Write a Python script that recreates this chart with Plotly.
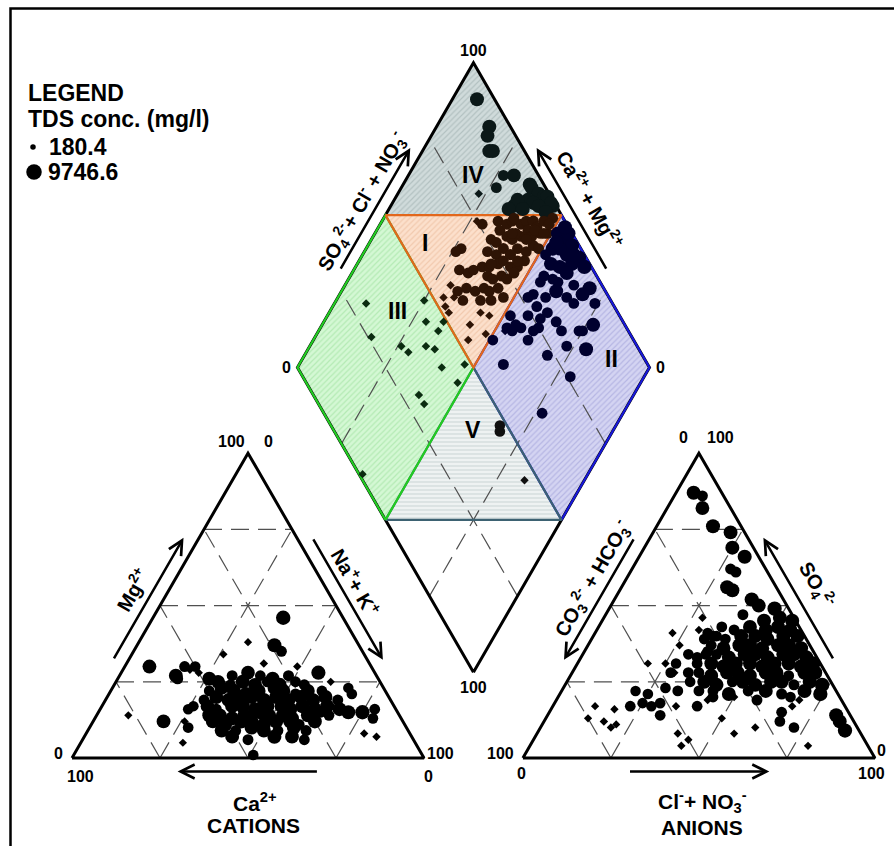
import math
import plotly.graph_objects as go

FONT = "Liberation Sans, Arial, Helvetica, sans-serif"

# ---------------------------------------------------------------------------
# Cation triangle: Mg2+ and Na+ + K+ as % of cation meq (Ca2+ is the rest)
# ---------------------------------------------------------------------------
cat_mg = [
    46, 38, 37, 35, 34, 30, 31, 30, 28, 30,
    29, 30, 27, 26, 28, 26, 25, 25, 23, 21,
    14, 12, 12, 16, 17, 10, 5, 15, 15, 16,
    13, 8, 7, 1,
    27, 28, 27, 26, 27,
    25, 24, 25, 24, 25, 24, 25, 24,
    22, 23, 22, 21, 22, 23, 22, 21, 22, 22,
    19, 20, 19, 20, 20, 19, 20, 19, 20, 19, 20, 19,
    17, 16, 17, 17, 16, 17, 17, 16, 17, 16, 17, 16,
    14, 14, 13, 14, 15, 14, 14, 13, 14, 15, 14,
    12, 11, 12, 12, 11, 12, 12, 11, 12,
    9, 9, 10, 9, 9, 10, 9,
    7, 6, 7, 7, 6,
]
cat_nak = [
    37, 31, 39, 42, 26, 7, 39, 49, 56, 17,
    19, 20, 16, 17, 22, 26, 30, 61, 67, 69,
    9, 20, 26, 25, 26, 28, 29, 71, 75, 78,
    79, 79, 83, 51,
    32, 36, 40, 44, 48,
    29, 33, 36, 40, 43, 47, 51, 54,
    28, 31, 35, 39, 42, 46, 49, 53, 56, 60,
    28, 31, 35, 38, 41, 45, 48, 52, 55, 59, 62, 66,
    30, 33, 37, 40, 44, 47, 51, 54, 57, 61, 64, 68,
    32, 35, 39, 42, 46, 49, 53, 56, 60, 63, 66,
    34, 38, 42, 45, 49, 52, 56, 59, 63,
    38, 42, 46, 50, 54, 58, 62,
    42, 47, 54, 59, 63,
]
cat_tds = [
    7800, 600, 7200, 3000, 650, 6900, 700, 650, 7400, 3000,
    900, 2800, 7000, 3200, 700, 6800, 600, 600, 2600, 2700,
    600, 6800, 650, 2600, 2500, 2800, 600, 7000, 7600, 2900,
    2700, 700, 700, 2700,
    3000, 6500, 2800, 6800, 3100,
    6600, 3000, 7200, 6900, 3000, 7000, 2900, 3200,
    2900, 6800, 7300, 6900, 7100, 6600, 7400, 3000, 6900, 2800,
    3000, 6900, 7100, 7500, 6800, 7200, 7000, 6700, 7300, 6900, 7100, 3100,
    6800, 3000, 7000, 7400, 6900, 7200, 6600, 7100, 7300, 6900, 7000, 6800,
    7100, 6900, 7300, 7000, 7200, 6800, 7400, 7100, 6900, 3000, 2900,
    6900, 7000, 7300, 6800, 7100, 7200, 6900, 3200, 7000,
    6800, 3000, 7100, 7000, 2900, 6900, 3100,
    6900, 3000, 7200, 6800, 2900,
]

# ---------------------------------------------------------------------------
# Anion triangle: SO4 2- and Cl- + NO3- as % of anion meq (CO3 + HCO3 is the rest)
# ---------------------------------------------------------------------------
an_so4 = [
    87, 86, 82, 76, 74, 69, 66, 62, 61, 56,
    55, 52, 50, 49, 47, 45, 46, 41, 41, 40,
    42, 39, 37, 31, 31, 31, 35, 33, 34, 28,
    28, 22, 21, 18, 17, 22, 18, 14, 17, 23,
    17, 16, 13, 12, 10, 11, 17, 17, 19, 13,
    8, 6, 4, 8, 10, 15, 12, 4, 10, 19,
    14, 12, 9, 17,
    45, 46,
    43, 42, 43, 42, 43, 42,
    40, 39, 40, 40, 39, 40, 40,
    37, 36, 37, 37, 36, 37, 37, 36,
    34, 34, 33, 34, 34, 33, 34, 34, 33,
    31, 31, 30, 31, 31, 30, 31, 31, 30, 31,
    28, 28, 27, 28, 28, 27, 28, 28, 27, 28, 28,
    25, 25, 24, 25, 25, 24, 25, 25, 24, 25, 24,
    22, 22, 21, 22, 22, 21, 22, 21,
    20, 20, 19, 20,
]
an_cl = [
    5, 8, 10, 16, 22, 25, 30, 28, 30, 30,
    32, 39, 42, 47, 39, 54, 28, 22, 32, 34,
    29, 32, 26, 20, 25, 28, 35, 33, 30, 28,
    29, 21, 25, 25, 22, 33, 30, 32, 28, 29,
    12, 18, 12, 17, 20, 21, 35, 41, 43, 50,
    40, 44, 43, 56, 61, 66, 67, 79, 72, 69,
    82, 84, 87, 68,
    46, 50,
    35, 39, 43, 48, 51, 55,
    35, 38, 42, 46, 50, 54, 58,
    35, 39, 43, 46, 50, 54, 57, 61,
    35, 38, 42, 46, 49, 53, 57, 60, 64,
    34, 38, 42, 45, 49, 53, 56, 60, 64, 67,
    33, 36, 40, 44, 47, 51, 55, 58, 62, 66, 69,
    35, 39, 43, 47, 50, 54, 58, 61, 65, 69, 73,
    39, 43, 48, 53, 58, 63, 69, 74,
    44, 50, 57, 66,
]
an_tds = [
    7000, 3000, 6800, 7200, 6900, 7100, 7300, 3000, 3100, 7000,
    7200, 7400, 7000, 7600, 3000, 7200, 700, 650, 2800, 2900,
    700, 2700, 650, 600, 650, 2600, 2900, 2800, 2700, 2800,
    700, 2600, 2700, 2600, 2800, 2900, 2700, 2800, 2600, 2700,
    600, 650, 600, 700, 650, 600, 700, 2800, 700, 650,
    700, 650, 700, 600, 650, 2900, 2800, 650, 2700, 700,
    7200, 7000, 7600, 700,
    7200, 7000,
    2900, 3000, 6900, 7100, 7300, 7000,
    2800, 3000, 7000, 7200, 6900, 7400, 7100,
    2900, 6800, 7000, 7200, 6900, 7300, 7100, 7500,
    3000, 2900, 6900, 7100, 7000, 7300, 7200, 6900, 7400,
    2900, 6800, 7000, 7100, 6900, 7300, 7200, 7000, 7400, 7600,
    3000, 2900, 6900, 7000, 7200, 6800, 7100, 7300, 3000, 7400, 7700,
    2800, 6800, 7000, 3000, 7100, 6900, 7200, 7000, 3100, 7500, 7800,
    2900, 3000, 6900, 3000, 7000, 3100, 7200, 7700,
    2900, 700, 3000, 2800,
]

# ---------------------------------------------------------------------------
# Central diamond: SO4 + Cl + NO3 (% anions) and Ca + Mg (% cations)
# ---------------------------------------------------------------------------
dia_anion = [
    95, 94, 92, 90, 91, 90, 93, 86, 80, 96,
    96, 97, 98, 99, 99, 99, 93, 94, 88, 90,
    86, 95, 96, 90,
    76, 81, 80, 83, 85, 87, 89, 91, 91, 94,
    97, 76, 77, 81, 82, 85, 88, 88, 91, 93,
    66, 64, 73, 75, 78, 79, 82, 84, 87, 88,
    62, 64, 66, 69, 71, 74, 76, 77, 79, 82,
    69, 70, 73, 74, 77, 57, 58, 61, 63, 66,
    67, 70, 70, 53, 56, 58, 63, 66, 52, 56,
    61, 63, 53, 59, 52, 75,
    84, 86, 90, 92, 95, 80, 83, 86, 72, 79,
    96, 96, 99, 98, 95, 94, 92, 89, 89, 91,
    95, 98, 98, 92, 88, 87, 85, 83, 92, 96,
    93, 88, 86, 79, 77, 82, 78, 89, 95, 80,
    81, 77, 74, 69, 66, 81, 86, 91, 80, 73,
    65, 67, 70, 75, 87, 60, 70, 73, 85, 59,
    76, 62, 73, 69, 99, 94, 97,
    30, 47, 49, 44, 46, 26, 33, 34, 40, 42,
    41, 48, 43, 30, 30, 1,
    48, 47, 46,
]
dia_cation = [
    93, 85, 84, 81, 80, 73, 70, 73, 77, 64,
    63, 60, 58, 57, 54, 55, 62, 60, 65, 65,
    66, 58, 55, 62,
    71, 67, 65, 64, 63, 60, 59, 57, 55, 54,
    52, 66, 64, 62, 60, 58, 57, 55, 53, 51,
    73, 74, 65, 62, 61, 58, 57, 54, 53, 51,
    70, 67, 66, 64, 62, 60, 59, 56, 54, 53,
    61, 59, 57, 55, 54, 70, 67, 65, 62, 60,
    58, 56, 53, 70, 67, 64, 59, 56, 66, 58,
    57, 54, 56, 52, 68, 73,
    60, 56, 55, 52, 52, 55, 61, 63, 62, 58,
    48, 45, 45, 42, 42, 45, 47, 48, 45, 42,
    39, 38, 35, 39, 40, 42, 45, 45, 35, 30,
    31, 35, 39, 45, 46, 41, 42, 32, 26, 38,
    34, 39, 43, 45, 47, 31, 26, 23, 27, 39,
    47, 45, 43, 38, 25, 49, 39, 31, 21, 42,
    21, 23, 31, 48, 47, 47, 40,
    91, 75, 66, 71, 66, 84, 74, 71, 67, 64,
    59, 53, 52, 61, 58, 64,
    33, 32, 17,
]
dia_tds = [
    7000, 7200, 6900, 7000, 7300, 3000, 6800, 2900, 700, 7200,
    7000, 7400, 7100, 7500, 7300, 7000, 7000, 7200, 6900, 7000,
    7300, 7100, 7000, 7200,
    2800, 3000, 2900, 3100, 2800, 3000, 2900, 3200, 3000, 3100,
    3000, 2800, 3000, 2900, 3100, 2800, 3000, 3200, 2900, 3000,
    2800, 2700, 3000, 2900, 3100, 2800, 3000, 2900, 3100, 3000,
    2800, 2900, 2700, 3000, 2900, 3100, 2800, 3000, 2900, 3000,
    2800, 2900, 3000, 2800, 3100, 700, 2700, 2800, 2900, 2800,
    3000, 2900, 2800, 700, 650, 2700, 2800, 2900, 650, 700,
    700, 650, 700, 650, 700, 700,
    3000, 2900, 3100, 2800, 3000, 2900, 3000, 2800, 2900, 3000,
    7000, 7200, 7100, 7300, 7000, 6900, 7200, 3000, 7000, 7100,
    7300, 7400, 7600, 7000, 3000, 2900, 3000, 2800, 2900, 7200,
    7000, 2900, 7000, 2800, 3000, 2900, 3000, 2800, 3000, 2900,
    3000, 2800, 2900, 3000, 2800, 2900, 3000, 7000, 2900, 2800,
    700, 2900, 2800, 3000, 2900, 2800, 2900, 3000, 7100, 3000,
    2800, 2900, 700, 2800, 7200, 7000, 7300,
    650, 700, 700, 650, 700, 650, 700, 650, 700, 700,
    650, 700, 650, 700, 650, 600,
    2600, 2700, 650,
]

TDS_RANGE = [180.4, 9746.6]
GRID_LEVELS = [25, 50, 75]
TICK_MIN, TICK_MAX = "0", "100"

# ---------------------------------------------------------------------------
# Piper geometry (triangle side = 100 data units)
# ---------------------------------------------------------------------------
S3 = math.sqrt(3) / 2
GAP = 28.1
PX = 1 / 3.52          # data units per screen pixel
W, H = 894, 846
OX, OY = 72, 758       # screen position of the cation triangle's left corner


def cat_xy(mg, nak):
    return nak + mg / 2, mg * S3


def an_xy(so4, cl):
    return 100 + GAP + cl + so4 / 2, so4 * S3


BX, BY = 100 + GAP / 2, GAP * S3


def dia_xy(a, c):
    return BX + (a - c) / 2, BY + (a + c) * S3


def screen(px, py):
    return (px - OX) * PX, (OY - py) * PX


def off(pt, dx, dy):
    return pt[0] + dx * PX, pt[1] - dy * PX


def along(p0, p1, t, normal, dist):
    return (p0[0] + t * (p1[0] - p0[0]) + normal[0] * dist * PX,
            p0[1] + t * (p1[1] - p0[1]) + normal[1] * dist * PX)


CL, CR, CT = cat_xy(0, 0), cat_xy(0, 100), cat_xy(100, 0)
AL, AR, AT = an_xy(0, 0), an_xy(0, 100), an_xy(100, 0)
DB, DL, DR, DT = dia_xy(0, 0), dia_xy(0, 100), dia_xy(100, 0), dia_xy(100, 100)
N_LEFT, N_RIGHT, N_DOWN = (-S3, 0.5), (S3, 0.5), (0, -1)


def facies(a, c):
    if a + c > 150:
        return "IV"
    if a >= 50 and c >= 50:
        return "I"
    if a >= 50:
        return "II"
    if c >= 50:
        return "III"
    return "V"


def msize(tds):
    f = max((tds - TDS_RANGE[0]) / (TDS_RANGE[1] - TDS_RANGE[0]), 0)
    return 5.5 + 10 * math.sqrt(f)


def polyline(pts, close=True):
    pts = list(pts) + ([pts[0]] if close else [])
    return [p[0] for p in pts], [p[1] for p in pts]


fig = go.Figure()

# ---- facies fills --------------------------------------------------------
region_style = {
    "IV": dict(poly=[(50, 100), (100, 100), (100, 50)], bg="#d0dbdb", fg="#96a8a8", shape="/", edge=None),
    "II": dict(poly=[(50, 0), (100, 0), (100, 50), (50, 50)], bg="#d4d4f2", fg="#9898d4", shape="/", edge="#1818d8"),
    "V": dict(poly=[(0, 50), (50, 50), (50, 0)], bg="#eef2f2", fg="#b0bfbf", shape="-", edge="#3d6272"),
    "III": dict(poly=[(0, 50), (0, 100), (50, 100), (50, 50)], bg="#d4f8d4", fg="#94dc94", shape="/", edge="#22cc22"),
    "I": dict(poly=[(50, 100), (100, 50), (50, 50)], bg="#fce0cc", fg="#e6b290", shape="/", edge="#e2671c"),
}
for name, st in region_style.items():
    xs, ys = polyline([dia_xy(a, c) for a, c in st["poly"]])
    fig.add_trace(go.Scatter(
        x=xs, y=ys, mode="none", fill="toself", fillcolor=st["bg"],
        fillpattern=dict(shape=st["shape"], fgcolor=st["fg"], bgcolor=st["bg"], size=4, solidity=0.3),
        hoverinfo="skip"))

# ---- dashed 25/50/75 grid -------------------------------------------------
gx, gy = [], []


def seg(p, q):
    gx.extend([p[0], q[0], None])
    gy.extend([p[1], q[1], None])


for v in GRID_LEVELS:
    seg(cat_xy(v, 0), cat_xy(v, 100 - v))
    seg(cat_xy(0, v), cat_xy(100 - v, v))
    seg(cat_xy(0, 100 - v), cat_xy(100 - v, 0))
    seg(an_xy(v, 0), an_xy(v, 100 - v))
    seg(an_xy(0, v), an_xy(100 - v, v))
    seg(an_xy(0, 100 - v), an_xy(100 - v, 0))
    seg(dia_xy(v, 0), dia_xy(v, 100))
    seg(dia_xy(0, v), dia_xy(100, v))
fig.add_trace(go.Scatter(x=gx, y=gy, mode="lines", hoverinfo="skip",
                         line=dict(color="#505050", width=1.2, dash="18px,9px")))

# ---- outlines --------------------------------------------------------------
for pts in ([CL, CR, CT], [AL, AR, AT], [DB, DR, DT, DL]):
    xs, ys = polyline(pts)
    fig.add_trace(go.Scatter(x=xs, y=ys, mode="lines", hoverinfo="skip",
                             line=dict(color="black", width=3)))
for name in ["II", "V", "III", "I"]:
    st = region_style[name]
    xs, ys = polyline([dia_xy(a, c) for a, c in st["poly"]])
    fig.add_trace(go.Scatter(x=xs, y=ys, mode="lines", hoverinfo="skip",
                             line=dict(color=st["edge"], width=2.2)))

# ---- samples ------------------------------------------------------------------
point_color = {"I": "#2e1405", "II": "#00002e", "III": "#0b2c10", "IV": "#0b1818", "V": "#101010"}


def points(xy, tds, colors):
    xs = [p[0] for p in xy]
    ys = [p[1] for p in xy]
    sizes = [msize(t) / (1.2 if t < 1500 else 1.0) for t in tds]
    symbols = ["diamond" if t < 1500 else "circle" for t in tds]
    fig.add_trace(go.Scatter(x=xs, y=ys, mode="markers", hoverinfo="skip",
                             marker=dict(size=sizes, symbol=symbols, color=colors,
                                         opacity=1, line=dict(width=0))))


points([cat_xy(m, n) for m, n in zip(cat_mg, cat_nak)], cat_tds, "black")
points([an_xy(s, c) for s, c in zip(an_so4, an_cl)], an_tds, "black")
points([dia_xy(a, c) for a, c in zip(dia_anion, dia_cation)], dia_tds,
       [point_color[facies(a, c)] for a, c in zip(dia_anion, dia_cation)])

# ---- text -----------------------------------------------------------------------
ann = []


def txt(pt, s, size=16, angle=0, xanchor="center"):
    ann.append(dict(x=pt[0], y=pt[1], xref="x", yref="y", text="<b>%s</b>" % s,
                    showarrow=False, textangle=angle, xanchor=xanchor, yanchor="middle",
                    font=dict(family=FONT, size=size, color="black")))


def arrow(tail, head):
    ann.append(dict(x=head[0], y=head[1], ax=tail[0], ay=tail[1], xref="x", yref="y",
                    axref="x", ayref="y", text="", showarrow=True, arrowhead=5,
                    arrowsize=1.1, arrowwidth=2.5, arrowcolor="black", standoff=0))


# corner values
txt(off(CT, -17, -12), TICK_MAX); txt(off(CT, 20, -12), TICK_MIN)
txt(off(CL, -14, -5), TICK_MIN); txt(off(CL, 8, 18), TICK_MAX)
txt(off(CR, 16, -5), TICK_MAX); txt(off(CR, 4, 18), TICK_MIN)
txt(off(AT, -15, -16), TICK_MIN); txt(off(AT, 22, -16), TICK_MAX)
txt(off(AL, -22, -5), TICK_MAX); txt(off(AL, -1, 15), TICK_MIN)
txt(off(AR, 7, -8), TICK_MIN); txt(off(AR, -3, 15), TICK_MAX)
txt(off(DT, 0, -12), TICK_MAX); txt(off(DB, 0, 15), TICK_MAX)
txt(off(DL, -11, 0), TICK_MIN); txt(off(DR, 11, 0), TICK_MIN)

# axis arrows
D_ARROW = 13.5
arrow(along(CL, CR, 0.7, N_DOWN, D_ARROW), along(CL, CR, 0.3, N_DOWN, D_ARROW))
arrow(along(CL, CT, 0.3, N_LEFT, D_ARROW), along(CL, CT, 0.7, N_LEFT, D_ARROW))
arrow(along(CT, CR, 0.3, N_RIGHT, D_ARROW), along(CT, CR, 0.7, N_RIGHT, D_ARROW))
arrow(along(AL, AR, 0.3, N_DOWN, D_ARROW), along(AL, AR, 0.7, N_DOWN, D_ARROW))
arrow(along(AL, AT, 0.7, N_LEFT, D_ARROW), along(AL, AT, 0.3, N_LEFT, D_ARROW))
arrow(along(AR, AT, 0.3, N_RIGHT, D_ARROW), along(AR, AT, 0.7, N_RIGHT, D_ARROW))
arrow(along(DL, DT, 0.3, N_LEFT, 12), along(DL, DT, 0.7, N_LEFT, 12))
arrow(along(DR, DT, 0.3, N_RIGHT, 12), along(DR, DT, 0.7, N_RIGHT, 12))

# axis titles
LBL = 20
txt(along(CL, CT, 0.5, N_LEFT, 33), "Mg<sup>2+</sup>", LBL, -60)
txt(along(CT, CR, 0.47, N_RIGHT, 29), "Na<sup>+</sup>+ K<sup>+</sup>", LBL, 60)
txt(off(((CL[0] + CR[0]) / 2, 0), 7, 44), "Ca<sup>2+</sup>", 21)
txt(off(((CL[0] + CR[0]) / 2, 0), 5, 67), "CATIONS", 21)
txt(along(AL, AT, 0.54, N_LEFT, 29), "CO<sub>3</sub><sup>2-</sup> + HCO<sub>3</sub><sup>-</sup>", LBL, -60)
txt(along(AR, AT, 0.51, N_RIGHT, 36), "SO<sub>4</sub><sup>2-</sup>", LBL, 60)
txt(off(((AL[0] + AR[0]) / 2, 0), 4, 43), "Cl<sup>-</sup>+ NO<sub>3</sub><sup>-</sup>", 21)
txt(off(((AL[0] + AR[0]) / 2, 0), 3, 69), "ANIONS", 21)
txt(along(DL, DT, 0.5, N_LEFT, 27), "SO<sub>4</sub><sup>2-</sup>+ Cl<sup>-</sup> + NO<sub>3</sub><sup>-</sup>", LBL, -60)
txt(along(DR, DT, 0.5, N_RIGHT, 33), "Ca<sup>2+</sup> + Mg<sup>2+</sup>", LBL, 60)

# facies labels
txt(dia_xy(81.5, 81.5), "IV", 23)
txt(dia_xy(56.5, 84.3), "I", 23)
txt(dia_xy(37.7, 80.7), "III", 23)
txt(dia_xy(90.7, 12.2), "II", 23)
txt(dia_xy(39.8, 39.8), "V", 23)

# legend
txt(screen(26, 93), "LEGEND", 23, xanchor="left")
txt(screen(26, 119), "TDS conc. (mg/l)", 23, xanchor="left")
txt(screen(47, 147), "%.1f" % TDS_RANGE[0], 23, xanchor="left")
txt(screen(46, 172), "%.1f" % TDS_RANGE[1], 23, xanchor="left")
lx = [screen(33, 147)[0], screen(34, 172)[0]]
ly = [screen(33, 147)[1], screen(34, 172)[1]]
fig.add_trace(go.Scatter(x=lx, y=ly, mode="markers", hoverinfo="skip",
                         marker=dict(size=[msize(t) for t in TDS_RANGE], color="black",
                                     opacity=1, line=dict(width=0))))

fig.update_layout(
    width=W, height=H, margin=dict(l=0, r=0, t=0, b=0),
    paper_bgcolor="white", plot_bgcolor="white", showlegend=False,
    xaxis=dict(range=[-OX * PX, (W - OX) * PX], visible=False, fixedrange=True),
    yaxis=dict(range=[(OY - H) * PX, OY * PX], visible=False, fixedrange=True),
    annotations=ann,
    shapes=[dict(type="path", xref="paper", yref="paper",
                 path="M %f,0 L %f,%f L 1,%f" % (10.5 / W, 10.5 / W, 1 - 8.5 / H, 1 - 8.5 / H),
                 line=dict(color="black", width=2.5))],
)

fig.write_html("out.html")
